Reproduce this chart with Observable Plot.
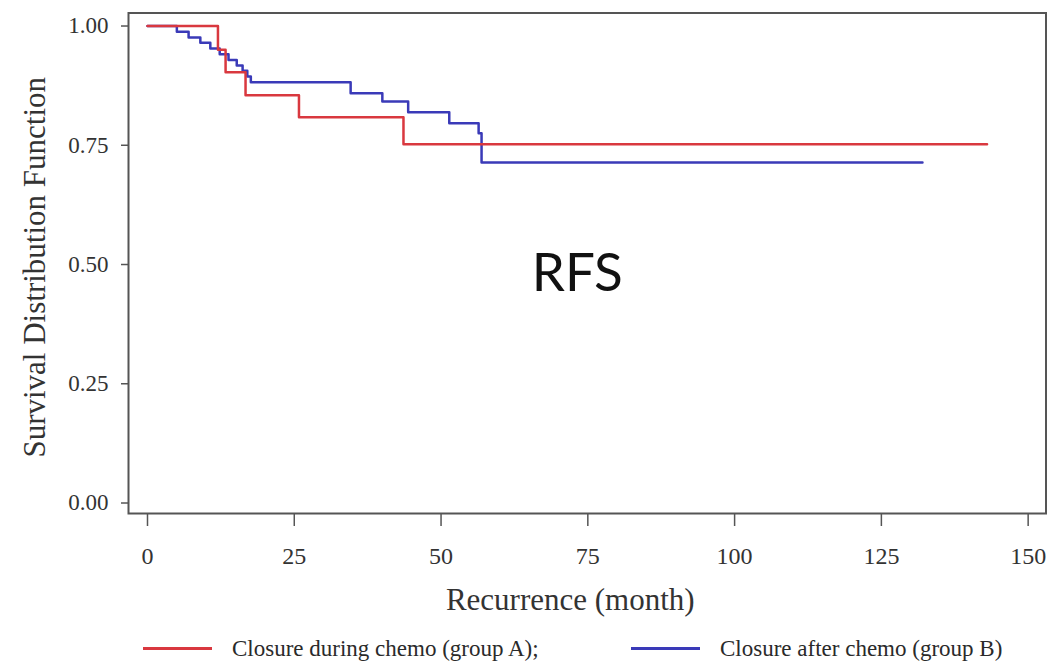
<!DOCTYPE html>
<html>
<head>
<meta charset="utf-8">
<script src="https://cdn.jsdelivr.net/npm/d3@7"></script>
<script src="https://cdn.jsdelivr.net/npm/@observablehq/plot@0.6"></script>
<style>
  html, body { margin: 0; padding: 0; background: #fff; }
  #chart svg { display: block; }
  #legend { position: relative; width: 1048px; height: 33px; font-family: "Liberation Serif", serif; font-size: 23px; color: #2a2a2a; }
  .item { position: absolute; top: 0; height: 33px; display: flex; align-items: center; white-space: nowrap; }
  .sw { display: inline-block; width: 69px; height: 3px; margin-right: 20px; }
</style>
</head>
<body>
<div id="chart"></div>
<div id="legend"></div>
<script>
// ---- data ----
const groupNames = ["Closure during chemo (group A);", "Closure after chemo (group B)"];
const groupColors = ["#d9383f", "#3a3ab8"];

const redTime = [0, 12, 13.3, 16.7, 25.8, 43.6, 143];
const redSurv = [1, 0.950, 0.903, 0.855, 0.809, 0.752, 0.752];

const blueTime = [0, 5, 7, 9, 10.7, 12.3, 13.8, 15.2, 16.2, 17, 17.6, 34.6, 40, 44.4, 51.4, 56.4, 56.9, 132];
const blueSurv = [1, 0.988, 0.976, 0.965, 0.953, 0.941, 0.929, 0.917, 0.906, 0.894, 0.882, 0.859, 0.842, 0.819, 0.796, 0.775, 0.714, 0.714];

const xTicks = [0, 25, 50, 75, 100, 125, 150];
const yTicks = [0, 0.25, 0.5, 0.75, 1];

const xTitle = "Recurrence (month)";
const yTitle = "Survival Distribution Function";

const noteText = ["RFS"];
const noteX = [73.2];
const noteY = [0.48];

// ---- build tables ----
const redData = redTime.map((t, i) => ({t, s: redSurv[i]}));
const blueData = blueTime.map((t, i) => ({t, s: blueSurv[i]}));
const notes = noteText.map((text, i) => ({text, x: noteX[i], y: noteY[i]}));

const chart = Plot.plot({
  width: 1048,
  height: 632,
  marginLeft: 128,
  marginRight: 2.5,
  marginTop: 12.5,
  marginBottom: 119,
  x: {domain: [-3.236, 153.04]},
  y: {domain: [-0.022, 1.0273]},
  style: {fontFamily: "Liberation Serif", color: "#333", background: "white"},
  marks: [
    Plot.axisX({ticks: xTicks, tickSize: 13, tickPadding: 20, fontSize: 24, label: null, stroke: "#555", strokeWidth: 1.5}),
    Plot.axisY({ticks: yTicks, tickFormat: d3.format(".2f"), tickSize: 7, tickPadding: 13, fontSize: 23, label: null, stroke: "#555", strokeWidth: 1.5}),
    Plot.line(blueData, {x: "t", y: "s", curve: "step-after", stroke: groupColors[1], strokeWidth: 2.5}),
    Plot.line(redData, {x: "t", y: "s", curve: "step-after", stroke: groupColors[0], strokeWidth: 2.5}),
    Plot.frame({stroke: "#555", strokeWidth: 2}),
    Plot.text(notes, {x: "x", y: "y", text: "text", fontFamily: "Lato", fontSize: 53, fill: "#111"}),
    Plot.text([xTitle], {text: d => d, frameAnchor: "bottom", dx: -17, dy: 96, fontSize: 31, fill: "#333"}),
    Plot.text([yTitle], {text: d => d, frameAnchor: "left", textAnchor: "middle", rotate: -90, dx: -93, dy: 4, fontSize: 31, fill: "#333"})
  ]
});
document.getElementById("chart").appendChild(chart);

// ---- legend ----
const legend = document.getElementById("legend");
const legendLeft = [143, 631];
groupNames.forEach((name, i) => {
  const item = document.createElement("div");
  item.className = "item";
  item.style.left = legendLeft[i] + "px";
  const sw = document.createElement("span");
  sw.className = "sw";
  sw.style.background = groupColors[i];
  const tx = document.createElement("span");
  tx.textContent = name;
  item.appendChild(sw);
  item.appendChild(tx);
  legend.appendChild(item);
});
</script>
</body>
</html>
